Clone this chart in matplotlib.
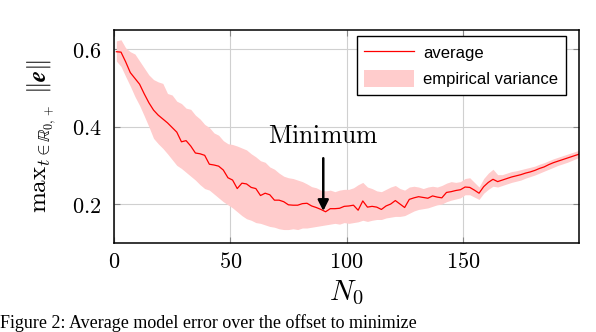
import numpy as np
import matplotlib
matplotlib.use("Agg")
import matplotlib.pyplot as plt

plt.rcParams['mathtext.fontset'] = 'cm'
plt.rcParams['font.family'] = ['DejaVu Serif']

# N0 values (x)
n0 = list(range(1, 200, 2)) + [200]

avg = [0.594, 0.593, 0.568, 0.540, 0.525, 0.510, 0.485, 0.462, 0.443, 0.430,
       0.420, 0.410, 0.398, 0.386, 0.361, 0.364, 0.350, 0.332, 0.330, 0.326,
       0.303, 0.301, 0.298, 0.288, 0.268, 0.262, 0.240, 0.254, 0.252, 0.243,
       0.240, 0.222, 0.228, 0.224, 0.210, 0.210, 0.206, 0.198, 0.197, 0.197,
       0.201, 0.202, 0.195, 0.191, 0.186, 0.180, 0.188, 0.188, 0.189, 0.194,
       0.195, 0.197, 0.184, 0.208, 0.192, 0.194, 0.192, 0.186, 0.195, 0.200,
       0.209, 0.200, 0.191, 0.212, 0.216, 0.219, 0.217, 0.215, 0.221, 0.218,
       0.216, 0.230, 0.232, 0.235, 0.237, 0.244, 0.243, 0.236, 0.228, 0.245,
       0.256, 0.264, 0.258, 0.262, 0.266, 0.270, 0.273, 0.276, 0.280, 0.283,
       0.287, 0.292, 0.296, 0.302, 0.307, 0.311, 0.315, 0.319, 0.323, 0.327,
       0.329]

upper = [0.622, 0.625, 0.604, 0.594, 0.588, 0.570, 0.552, 0.534, 0.522, 0.516,
         0.512, 0.486, 0.482, 0.466, 0.460, 0.448, 0.445, 0.430, 0.420, 0.406,
         0.398, 0.384, 0.378, 0.364, 0.356, 0.354, 0.350, 0.345, 0.340, 0.330,
         0.322, 0.312, 0.308, 0.296, 0.290, 0.280, 0.272, 0.268, 0.266, 0.262,
         0.258, 0.252, 0.245, 0.242, 0.236, 0.234, 0.236, 0.232, 0.236, 0.238,
         0.238, 0.242, 0.250, 0.256, 0.244, 0.240, 0.234, 0.232, 0.238, 0.244,
         0.248, 0.240, 0.236, 0.244, 0.246, 0.244, 0.240, 0.244, 0.246, 0.244,
         0.248, 0.254, 0.258, 0.256, 0.258, 0.266, 0.268, 0.256, 0.244, 0.266,
         0.280, 0.290, 0.276, 0.276, 0.280, 0.284, 0.286, 0.289, 0.292, 0.295,
         0.298, 0.303, 0.307, 0.312, 0.317, 0.321, 0.325, 0.329, 0.333, 0.337,
         0.339]

lower = [0.570, 0.556, 0.530, 0.505, 0.478, 0.455, 0.428, 0.400, 0.370, 0.356,
         0.344, 0.330, 0.315, 0.300, 0.292, 0.282, 0.272, 0.262, 0.250, 0.240,
         0.236, 0.226, 0.216, 0.206, 0.198, 0.190, 0.180, 0.170, 0.162, 0.158,
         0.152, 0.150, 0.146, 0.142, 0.140, 0.136, 0.134, 0.134, 0.136, 0.134,
         0.138, 0.138, 0.140, 0.142, 0.144, 0.146, 0.148, 0.150, 0.148, 0.152,
         0.150, 0.152, 0.154, 0.158, 0.155, 0.158, 0.160, 0.160, 0.164, 0.166,
         0.168, 0.168, 0.170, 0.176, 0.182, 0.186, 0.188, 0.190, 0.194, 0.198,
         0.200, 0.206, 0.210, 0.213, 0.216, 0.224, 0.224, 0.218, 0.212, 0.228,
         0.238, 0.246, 0.244, 0.248, 0.252, 0.256, 0.259, 0.262, 0.267, 0.271,
         0.275, 0.280, 0.285, 0.290, 0.295, 0.300, 0.304, 0.308, 0.313, 0.318,
         0.320]

xticks = [0, 50, 100, 150]
yticks = [0.2, 0.4, 0.6]
min_n0 = 90
min_val = 0.182

fig = plt.figure(figsize=(5.96, 3.32), dpi=100)
ax = fig.add_axes([0.1913, 0.269, 0.7802, 0.6404])

ax.fill_between(n0, lower, upper, color='#ffcccc', linewidth=0,
                label='empirical variance', zorder=2)
ax.plot(n0, avg, color='red', linewidth=0.9, label='average', zorder=3)

ax.set_xlim(0, 200)
ax.set_ylim(0.1, 0.65)
ax.set_xticks(xticks)
ax.set_yticks(yticks)
ax.set_xticklabels([f'${t}$' for t in xticks])
ax.set_yticklabels([f'${t:.1f}$' for t in yticks])
ax.tick_params(axis='both', direction='in', length=4, width=0.8,
               color='#888888', labelsize=16, top=True, right=True)
ax.tick_params(axis='y', pad=9)
ax.tick_params(axis='x', pad=6)
ax.grid(True, color='#d0d0d0', linewidth=0.8, zorder=0)
ax.set_axisbelow(True)
for s in ax.spines.values():
    s.set_linewidth(1.1)
    s.set_color('black')
    s.set_zorder(5)

ax.set_xlabel(r'$N_0$', fontsize=21, labelpad=4)
ax.set_ylabel(r'$\mathrm{max}_{t\in\mathbb{R}_{0,+}}\ \Vert\boldsymbol{e}\Vert$',
              fontsize=18, labelpad=9)

ax.annotate(r'$\mathrm{Minimum}$', xy=(min_n0, min_val), xytext=(min_n0, 0.376),
            ha='center', va='center', fontsize=18.5,
            arrowprops=dict(arrowstyle='-|>', color='black', lw=1.8,
                            shrinkA=5, shrinkB=0, mutation_scale=16),
            zorder=6)

leg = ax.legend(handles=ax.get_legend_handles_labels()[0][::-1],
                loc='upper right', bbox_to_anchor=(0.972, 0.972),
                borderaxespad=0,
                prop={'family': 'Liberation Sans', 'size': 12},
                fancybox=False, edgecolor='black', framealpha=1,
                handlelength=3.0, handleheight=1.2, borderpad=0.45,
                labelspacing=0.55, handletextpad=0.55)
leg.get_frame().set_linewidth(1.0)
leg.set_zorder(7)

fig.text(0.0, 0.012, 'Figure 2: Average model error over the offset to minimize',
         family='Liberation Serif', fontsize=13, ha='left', va='baseline')

fig.savefig('out.png', dpi=100)
